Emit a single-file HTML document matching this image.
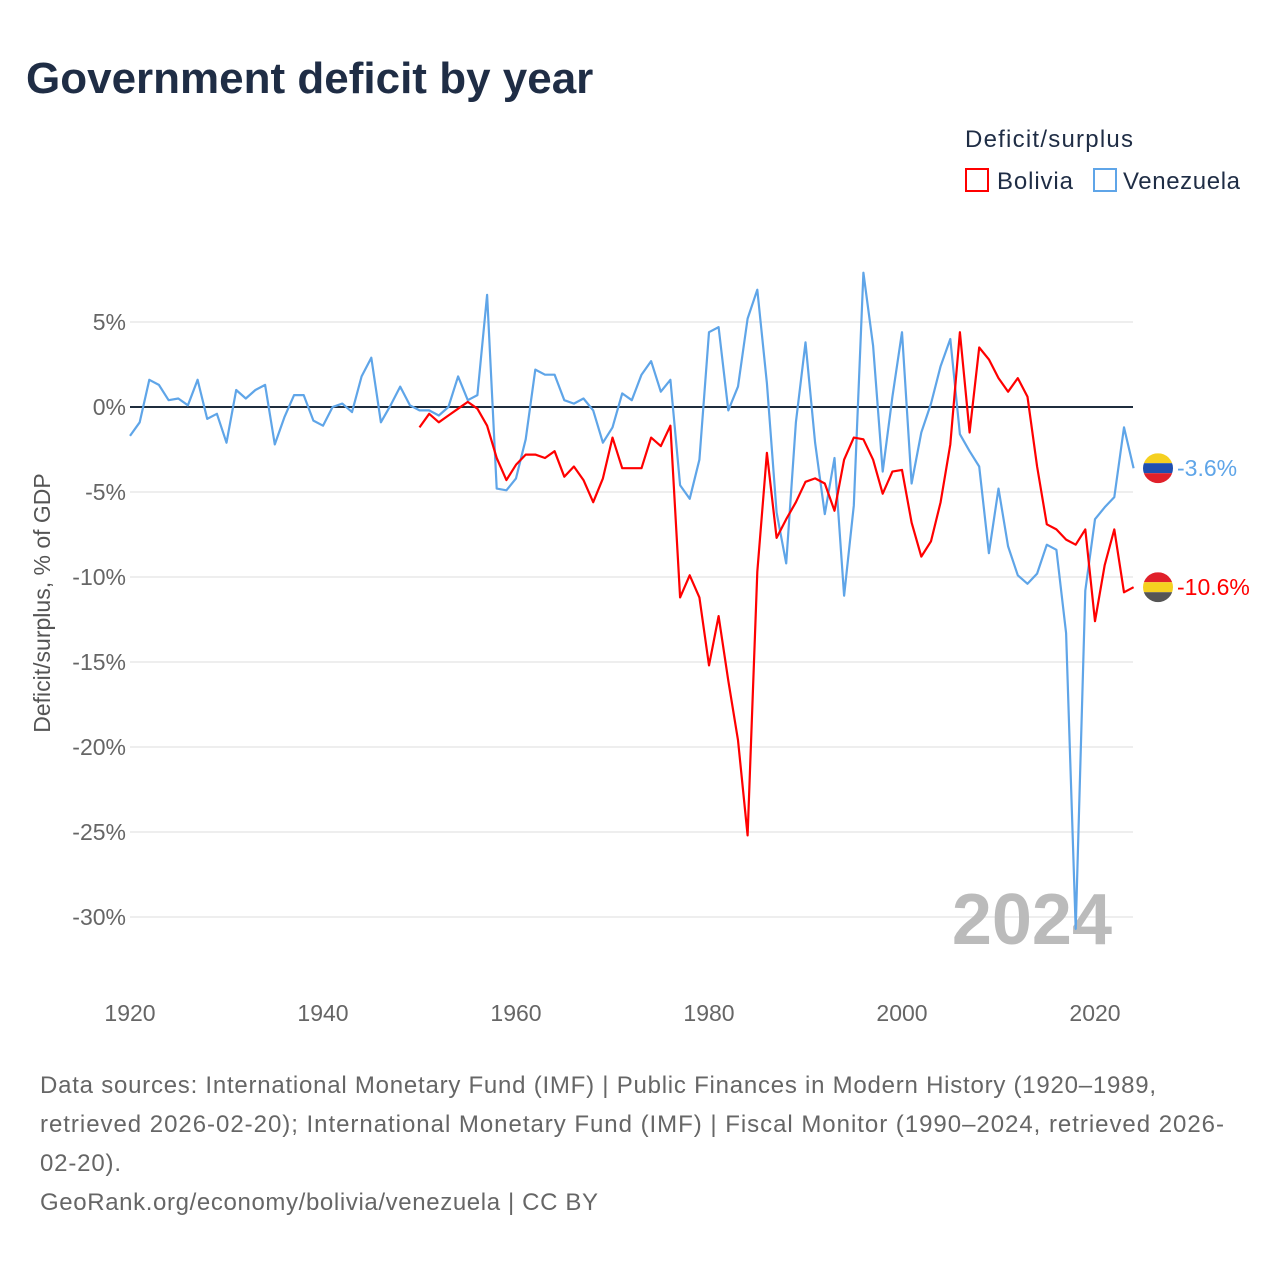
<!DOCTYPE html>
<html><head><meta charset="utf-8">
<style>
body{margin:0;background:#fff;font-family:"Liberation Sans",sans-serif;}
#wrap{position:relative;width:1280px;height:1280px;overflow:hidden;}
</style></head>
<body>
<div id="wrap">
<svg id="chart" width="1280" height="1280" xmlns="http://www.w3.org/2000/svg">
<text x="26" y="93" font-size="44" font-weight="bold" fill="#1f2d45">Government deficit by year</text>
<text x="965" y="147" font-size="24" fill="#1f2d45" textLength="168" lengthAdjust="spacing">Deficit/surplus</text>
<g><rect x="966" y="169" width="22" height="22" fill="none" stroke="#ff0000" stroke-width="2"/><text x="997" y="189" font-size="24" fill="#1f2d45" textLength="76" lengthAdjust="spacing">Bolivia</text></g>
<g><rect x="1094" y="169" width="22" height="22" fill="none" stroke="#5fa5e8" stroke-width="2"/><text x="1123" y="189" font-size="24" fill="#1f2d45" textLength="117" lengthAdjust="spacing">Venezuela</text></g>
<text transform="translate(50,603) rotate(-90)" text-anchor="middle" font-size="23" fill="#555">Deficit/surplus, % of GDP</text>
<g id="grid"></g><g id="yticks"></g><g id="xticks"></g>
<text x="1112" y="944" text-anchor="end" font-size="72" font-weight="bold" fill="#bbb">2024</text>
<g id="series"></g><g id="ends"></g>
<text x="40" y="1093" font-size="24" fill="#666" textLength="1116" lengthAdjust="spacing">Data sources: International Monetary Fund (IMF) | Public Finances in Modern History (1920–1989,</text>
<text x="40" y="1132" font-size="24" fill="#666" textLength="1184" lengthAdjust="spacing">retrieved 2026-02-20); International Monetary Fund (IMF) | Fiscal Monitor (1990–2024, retrieved 2026-</text>
<text x="40" y="1171" font-size="24" fill="#666" textLength="81" lengthAdjust="spacing">02-20).</text>
<text x="40" y="1210" font-size="24" fill="#666" textLength="558" lengthAdjust="spacing">GeoRank.org/economy/bolivia/venezuela | CC BY</text>
</svg>
</div>
<script>
const venStart = 1920;
const venezuela = [-1.7,-0.9,1.6,1.3,0.4,0.5,0.1,1.6,-0.7,-0.4,-2.1,1.0,0.5,1.0,1.3,-2.2,-0.6,0.7,0.7,-0.8,-1.1,0,0.2,-0.3,1.8,2.9,-0.9,0.1,1.2,0.1,-0.2,-0.2,-0.5,0,1.8,0.4,0.7,6.6,-4.8,-4.9,-4.2,-1.9,2.2,1.9,1.9,0.4,0.2,0.5,-0.2,-2.1,-1.2,0.8,0.4,1.9,2.7,0.9,1.6,-4.6,-5.4,-3.1,4.4,4.7,-0.2,1.2,5.2,6.9,1.4,-6.2,-9.2,-0.9,3.8,-2.1,-6.3,-3.0,-11.1,-5.8,7.9,3.6,-3.8,0.6,4.4,-4.5,-1.5,0.2,2.4,4.0,-1.6,-2.6,-3.5,-8.6,-4.8,-8.2,-9.9,-10.4,-9.8,-8.1,-8.4,-13.3,-30.7,-10.8,-6.6,-5.9,-5.3,-1.2,-3.6];
const bolStart = 1950;
const bolivia = [-1.2,-0.4,-0.9,-0.5,-0.1,0.3,-0.1,-1.1,-3.0,-4.3,-3.4,-2.8,-2.8,-3.0,-2.6,-4.1,-3.5,-4.3,-5.6,-4.2,-1.8,-3.6,-3.6,-3.6,-1.8,-2.3,-1.1,-11.2,-9.9,-11.2,-15.2,-12.3,-16.1,-19.6,-25.2,-9.7,-2.7,-7.7,-6.6,-5.6,-4.4,-4.2,-4.5,-6.1,-3.1,-1.8,-1.9,-3.1,-5.1,-3.8,-3.7,-6.8,-8.8,-7.9,-5.6,-2.2,4.4,-1.5,3.5,2.8,1.7,0.9,1.7,0.6,-3.5,-6.9,-7.2,-7.8,-8.1,-7.2,-12.6,-9.3,-7.2,-10.9,-10.6];
const yTicks = [5,0,-5,-10,-15,-20,-25,-30];
const xTicks = [1920,1940,1960,1980,2000,2020];

const NS = 'http://www.w3.org/2000/svg';
const X = yr => 130 + (yr - 1920) * 9.65;
const Y = v => 407 - v * 17;
function mk(tag, attrs, parent){const e=document.createElementNS(NS,tag);for(const k in attrs)e.setAttribute(k,attrs[k]);parent.appendChild(e);return e;}
const grid=document.getElementById('grid'),yt=document.getElementById('yticks'),xt=document.getElementById('xticks');
yTicks.forEach(v=>{
  const l=mk('line',{x1:130,x2:1133,y1:Y(v),y2:Y(v),stroke:v===0?'#1f2d3d':'#e8e8e8','stroke-width':v===0?2:1.5},grid);
  
  
  const t=mk('text',{x:126,y:Y(v)+8,'text-anchor':'end','font-size':23,fill:'#666'},yt);
  t.textContent=v+'%';
  
  
});
xTicks.forEach(yr=>{
  const t=mk('text',{x:X(yr),y:1021,'text-anchor':'middle','font-size':23,fill:'#666'},xt);
  t.textContent=yr;
  
  
});
const ser=document.getElementById('series');
function line(arr,start,color,name){
  const d=arr.map((v,i)=>(i?'L':'M')+X(start+i).toFixed(1)+','+Y(v).toFixed(1)).join('');
  const p=mk('path',{d:d,fill:'none',stroke:color,'stroke-width':2.2,'stroke-linejoin':'round'},ser);
  
  
}
line(venezuela,venStart,'#5fa5e8','venezuela-line');
line(bolivia,bolStart,'#ff0000','bolivia-line');
const ends=document.getElementById('ends');
function flag(v,cols,color,label,name){
  const cy=Y(v),cx=1158,g=mk('g',{},ends);
  
  
  const cid=name+'-clip';
  const cp=mk('clipPath',{id:cid},g);mk('circle',{cx:cx,cy:cy,r:15},cp);
  const gg=mk('g',{'clip-path':'url(#'+cid+')'},g);
  cols.forEach((c,i)=>mk('rect',{x:cx-15,y:cy-15+i*10,width:30,height:10,fill:c},gg));
  const t=mk('text',{x:1177,y:cy+8,'font-size':23,fill:color},g);
  t.textContent=label;
}
flag(venezuela[venezuela.length-1],['#f5d020','#1e4fb0','#e0202a'],'#5fa5e8',venezuela[venezuela.length-1].toFixed(1)+'%','venezuela-end-label');
flag(bolivia[bolivia.length-1],['#e0202a','#f5d020','#555'],'#ff0000',bolivia[bolivia.length-1].toFixed(1)+'%','bolivia-end-label');
</script>
</body></html>
